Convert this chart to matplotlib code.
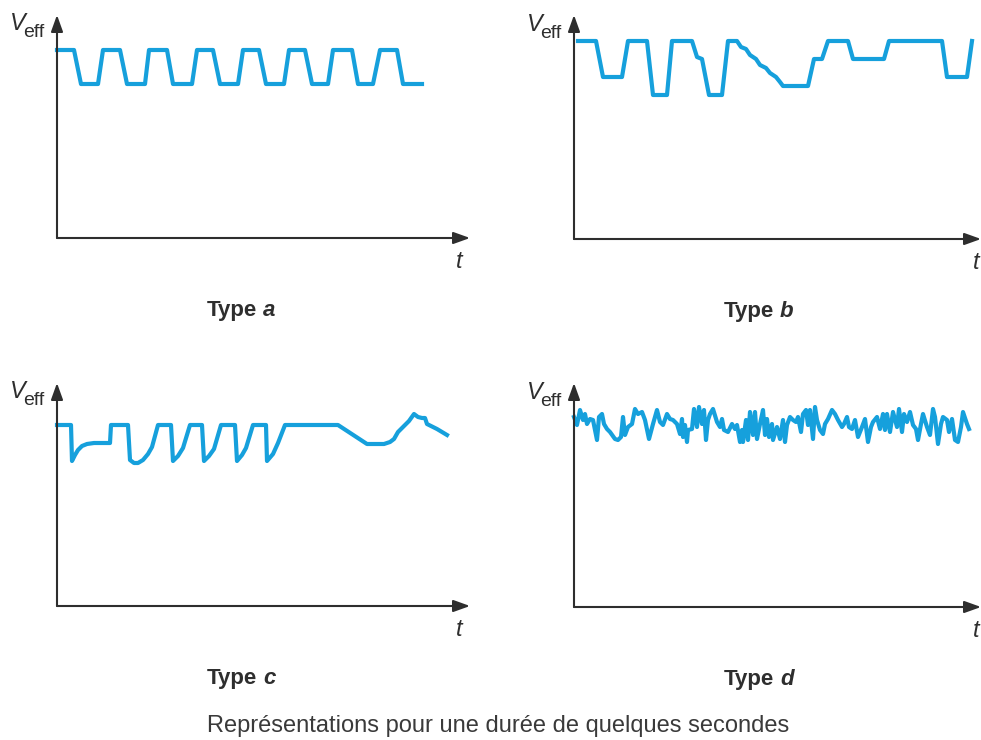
import matplotlib
matplotlib.use('Agg')
import matplotlib.pyplot as plt

plt.rcParams['font.family'] = ['Liberation Sans', 'DejaVu Sans']

W, H = 981, 740
BLUE = '#16a0dc'
INK = '#2e2e2e'

# Type a : fluctuations rectangulaires régulières
t_a = [0, 17, 24, 41, 46, 63, 70, 88, 92, 110, 116, 135, 140, 156, 163, 181,
       186, 202, 209, 227, 232, 248, 255, 271, 276, 295, 301, 316, 323, 340, 346, 365]
v_a = [188, 188, 154, 154, 188, 188, 154, 154, 188, 188, 154, 154, 188, 188, 154, 154,
       188, 188, 154, 154, 188, 188, 154, 154, 188, 188, 154, 154, 188, 188, 154, 154]

# Type b : variations en échelons irrégulières
t_b = [4, 22, 29, 48, 54, 73, 79, 93, 98, 118, 123, 128, 135, 148, 154, 163,
       167, 172, 176, 182, 186, 192, 196, 202, 206, 209, 234, 240, 248, 254,
       274, 279, 310, 315, 368, 373, 393, 398]
v_b = [198, 198, 162, 162, 198, 198, 144, 144, 198, 198, 182, 180, 144, 144, 198, 198,
       192, 190, 184, 180, 174, 171, 166, 162, 157, 153, 153, 180, 180, 198,
       198, 180, 180, 198, 198, 162, 162, 198]

# Type c : chutes suivies de retours progressifs
t_c = [0, 14, 15, 18, 21, 25, 30, 37, 53, 54, 71, 73, 77, 81, 86, 91, 95, 101,
       114, 116, 121, 126, 133, 145, 147, 152, 157, 164, 178, 180, 185, 189, 196,
       209, 210, 216, 221, 228, 281, 310, 327, 333, 337, 341, 347, 352, 357, 361,
       365, 368, 370, 380, 390]
v_c = [181, 181, 145, 151, 156, 160, 162, 163, 163, 181, 181, 146, 143, 143, 146, 152, 159, 181,
       181, 145, 150, 158, 181, 181, 145, 150, 157, 181, 181, 145, 151, 158, 181,
       181, 145, 152, 163, 181, 181, 162, 162, 164, 167, 174, 180, 185, 192, 189,
       188, 188, 182, 177, 171]

# Type d : fluctuations rapides et aléatoires
t_d = [0, 3, 6, 9, 11, 13, 16, 19, 23, 25, 28, 30, 33, 36, 41, 44, 47, 49, 51, 54,
       58, 61, 64, 68, 71, 75, 79, 83, 86, 89, 93, 96, 99, 103, 106, 108, 109, 111,
       113, 114, 118, 120, 123, 125, 128, 130, 132, 134, 136, 139, 143, 146, 148, 150,
       154, 158, 161, 163, 166, 168, 169, 172, 174, 176, 179, 181, 183, 186, 189, 191,
       193, 195, 198, 199, 203, 206, 209, 211, 213, 216, 219, 222, 224, 227, 229, 232,
       234, 236, 239, 241, 243, 246, 249, 251, 254, 258, 261, 264, 268, 270, 273, 275,
       278, 281, 284, 288, 291, 294, 297, 299, 303, 306, 309, 311, 313, 316, 319, 323,
       325, 328, 330, 333, 336, 339, 342, 344, 347, 349, 353, 356, 359, 361, 364, 367,
       369, 373, 375, 378, 381, 384, 387, 389, 393, 395]
v_d = [190, 182, 197, 187, 193, 183, 188, 187, 167, 190, 193, 183, 178, 175, 168, 167, 170, 190, 172, 180,
       183, 198, 193, 195, 187, 168, 183, 197, 185, 182, 193, 188, 187, 183, 173, 188, 170, 182,
       165, 177, 178, 198, 180, 200, 183, 197, 167, 187, 193, 198, 185, 180, 188, 177,
       175, 183, 178, 182, 165, 177, 165, 187, 167, 195, 172, 195, 168, 183, 197, 172,
       188, 170, 183, 167, 180, 168, 187, 165, 182, 190, 187, 185, 190, 175, 193, 197,
       182, 197, 168, 200, 187, 177, 173, 183, 188, 197, 193, 187, 180, 183, 190, 180,
       178, 187, 170, 180, 188, 165, 180, 185, 190, 178, 193, 177, 193, 175, 195, 180,
       198, 175, 193, 185, 195, 182, 178, 167, 183, 193, 180, 172, 198, 190, 163, 183,
       190, 187, 175, 188, 167, 165, 180, 195, 183, 178]

# origine des axes (px), longueur des flèches (px)
panels = [
    (57, 238, 413, 223, t_a, v_a, 'a'),
    (574, 239, 407, 224, t_b, v_b, 'b'),
    (57, 606, 413, 223, t_c, v_c, 'c'),
    (574, 607, 407, 224, t_d, v_d, 'd'),
]


def fig_xy(x, y):
    return x / W, 1 - y / H


def draw_panel(fig, ox, oy, width, height, t, v, letter):
    ax = fig.add_axes([ox / W, (H - oy) / H, width / W, height / H])
    ax.set_xlim(0, width)
    ax.set_ylim(0, height)
    ax.axis('off')
    arrow = dict(arrowstyle='-|>,head_length=1.0,head_width=0.36', color=INK,
                 lw=1.5, shrinkA=0, shrinkB=0)
    ax.annotate('', xy=(width, 0), xytext=(0, 0), arrowprops=arrow, annotation_clip=False)
    ax.annotate('', xy=(0, height), xytext=(0, 0), arrowprops=arrow, annotation_clip=False)
    ax.plot(t, v, color=BLUE, lw=3.0, solid_joinstyle='round', clip_on=False)

    fig.text(*fig_xy(ox - 47, oy - 208), 'V', style='italic', fontsize=17, color=INK)
    fig.text(*fig_xy(ox - 34, oy - 201), 'eff', fontsize=14, color=INK)
    fig.text(*fig_xy(ox + 402, oy + 30), 't', style='italic', ha='center', fontsize=17, color=INK)
    fig.text(*fig_xy(ox + 200, oy + 78), 'Type', weight='bold', ha='right', fontsize=16, color=INK)
    fig.text(*fig_xy(ox + 206, oy + 78), letter, weight='bold', style='italic', ha='left',
             fontsize=16, color=INK)


fig = plt.figure(figsize=(W / 100, H / 100), dpi=100)
for ox, oy, w, h, t, v, letter in panels:
    draw_panel(fig, ox, oy, w, h, t, v, letter)

fig.text(*fig_xy(498, 732), 'Représentations pour une durée de quelques secondes',
         ha='center', fontsize=17, color='#3a3a3a')

fig.savefig('out.png', dpi=100)
